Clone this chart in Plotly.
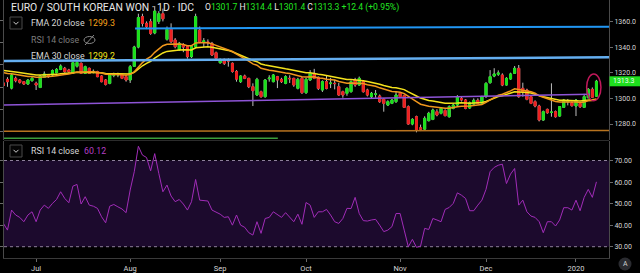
import plotly.graph_objects as go
import pandas as pd

# ---------------- data ----------------
DATES = [d.strftime('%Y-%m-%d') for d in pd.bdate_range('2019-06-19', '2020-01-08')]

OPEN = [1312.0, 1314.8, 1308.0, 1315.6, 1314.3, 1313.0, 1311.2, 1313.8,
        1311.7, 1308.5, 1316.4, 1318.2, 1318.2, 1320.0, 1322.6, 1323.4, 1322.1, 1319.5,
        1325.0, 1327.3, 1319.5, 1323.4, 1320.5, 1320.8, 1317.4, 1314.3, 1311.7, 1318.0,
        1318.2, 1318.2, 1316.9, 1314.3, 1325.0, 1340.0, 1363.7, 1358.5, 1359.8, 1351.0,
        1360.0, 1366.0, 1346.0, 1353.8, 1345.5, 1337.7, 1341.6, 1340.3, 1332.5, 1340.3,
        1353.3, 1344.2, 1344.0, 1342.9, 1335.6, 1327.8, 1330.4, 1329.4, 1327.3, 1321.0,
        1313.0, 1317.4, 1315.6, 1309.1, 1302.6, 1305.2, 1301.3, 1315.3, 1313.0, 1316.9,
        1314.8, 1311.7, 1315.6, 1315.6, 1307.8, 1315.6, 1304.4, 1314.3, 1319.5, 1316.4,
        1306.5, 1313.0, 1311.5, 1311.7, 1309.1, 1305.2, 1303.9, 1305.2, 1314.3, 1310.4,
        1313.0, 1306.5, 1301.3, 1303.2, 1301.8, 1299.2, 1294.8, 1296.1, 1297.4, 1303.9,
        1302.1, 1293.5, 1280.0, 1285.7, 1277.0, 1276.0, 1282.6, 1283.6, 1289.6, 1288.3,
        1290.5, 1285.7, 1292.2, 1294.8, 1300.0, 1298.7, 1292.5, 1295.5, 1298.5, 1296.1,
        1301.3, 1312.2, 1317.4, 1318.8, 1318.2, 1310.4, 1315.1, 1319.5, 1323.4, 1307.8,
        1306.5, 1301.3, 1297.4, 1294.0, 1283.1, 1291.4, 1289.0, 1289.6, 1286.2, 1293.0,
        1297.4, 1296.5, 1294.0, 1296.0, 1293.0, 1300.5, 1307.0, 1301.7]

HIGH = [1314.0, 1316.5, 1319.0, 1317.0, 1315.0, 1313.5, 1315.0, 1316.5,
        1313.0, 1318.0, 1321.0, 1319.0, 1322.5, 1323.5, 1326.5, 1324.5, 1323.0, 1328.5,
        1329.0, 1328.0, 1325.5, 1324.0, 1322.5, 1321.5, 1318.0, 1315.0, 1319.0, 1320.0,
        1320.0, 1319.0, 1317.5, 1326.0, 1341.0, 1366.0, 1366.0, 1360.0, 1362.0, 1372.0,
        1368.0, 1370.0, 1356.0, 1358.5, 1347.0, 1344.0, 1343.0, 1341.0, 1341.0, 1366.0,
        1356.0, 1347.0, 1346.0, 1344.0, 1336.5, 1331.0, 1331.0, 1331.2, 1328.0, 1322.0,
        1318.0, 1318.5, 1316.0, 1311.7, 1316.0, 1306.0, 1315.0, 1318.0, 1319.0, 1317.5,
        1316.0, 1318.0, 1318.0, 1316.0, 1316.0, 1316.5, 1316.0, 1322.0, 1323.0, 1317.0,
        1314.0, 1318.0, 1316.0, 1314.5, 1312.0, 1306.0, 1308.5, 1314.0, 1316.0, 1317.0,
        1314.0, 1307.5, 1305.0, 1306.5, 1303.0, 1300.0, 1298.5, 1299.5, 1305.5, 1305.0,
        1303.0, 1294.5, 1284.5, 1286.5, 1279.5, 1286.0, 1289.5, 1292.0, 1291.5, 1293.0,
        1291.5, 1294.5, 1296.0, 1302.5, 1301.5, 1299.5, 1297.5, 1300.0, 1300.0, 1302.0,
        1312.5, 1322.0, 1323.5, 1321.8, 1319.5, 1316.5, 1320.0, 1325.2, 1326.0, 1312.2,
        1307.5, 1302.0, 1298.5, 1295.0, 1290.5, 1292.0, 1311.7, 1290.5, 1294.0, 1299.5,
        1299.5, 1297.5, 1299.5, 1297.0, 1303.5, 1308.0, 1308.5, 1314.4]

LOW = [1308.5, 1309.0, 1307.0, 1312.5, 1311.5, 1310.5, 1310.5, 1313.0,
       1306.5, 1308.0, 1316.0, 1316.0, 1317.5, 1319.5, 1322.0, 1320.0, 1320.0, 1319.0,
       1324.0, 1319.0, 1319.0, 1319.0, 1319.5, 1316.5, 1312.5, 1310.0, 1311.0, 1316.5,
       1316.5, 1315.0, 1313.0, 1312.0, 1324.5, 1339.0, 1356.0, 1354.0, 1349.5, 1350.0,
       1358.0, 1360.0, 1345.0, 1343.0, 1339.0, 1337.0, 1336.0, 1331.0, 1331.5, 1339.0,
       1343.0, 1340.0, 1341.0, 1333.0, 1330.0, 1327.0, 1326.0, 1324.7, 1320.0, 1313.0,
       1312.0, 1315.0, 1308.0, 1294.0, 1302.0, 1300.5, 1300.5, 1313.0, 1312.5, 1308.0,
       1312.0, 1311.0, 1312.0, 1309.0, 1307.0, 1303.5, 1303.5, 1313.5, 1315.0, 1306.5,
       1305.0, 1307.0, 1308.0, 1307.0, 1302.0, 1300.5, 1302.0, 1304.5, 1309.0, 1310.0,
       1304.5, 1301.5, 1300.0, 1300.5, 1296.5, 1289.6, 1294.0, 1295.5, 1296.5, 1300.5,
       1292.5, 1279.5, 1279.0, 1273.5, 1274.5, 1275.0, 1282.0, 1283.0, 1286.0, 1287.5,
       1286.0, 1285.0, 1291.5, 1294.0, 1297.5, 1291.5, 1292.0, 1295.0, 1295.5, 1295.5,
       1300.5, 1311.5, 1316.5, 1317.5, 1309.5, 1310.0, 1314.5, 1319.0, 1300.5, 1301.3,
       1298.5, 1295.5, 1293.0, 1282.0, 1282.5, 1288.0, 1285.7, 1285.0, 1285.7, 1292.5,
       1294.5, 1293.5, 1286.2, 1292.5, 1292.5, 1300.0, 1300.5, 1301.4]

CLOSE = [1310.0, 1313.0, 1318.2, 1313.8, 1312.5, 1311.2, 1314.3, 1315.6,
         1310.4, 1317.4, 1319.0, 1316.9, 1321.6, 1322.6, 1325.2, 1320.8, 1320.8, 1327.8,
         1328.0, 1319.5, 1324.7, 1319.5, 1321.0, 1316.9, 1313.0, 1310.9, 1318.2, 1318.4,
         1318.6, 1315.6, 1314.3, 1324.7, 1340.0, 1363.0, 1358.5, 1355.9, 1350.7, 1368.0,
         1366.0, 1362.0, 1353.8, 1344.2, 1340.3, 1342.9, 1340.0, 1332.5, 1340.3, 1363.7,
         1344.2, 1344.8, 1343.4, 1333.8, 1331.2, 1330.4, 1327.3, 1329.1, 1321.0, 1315.0,
         1317.4, 1315.6, 1309.1, 1306.0, 1314.8, 1301.3, 1314.3, 1315.8, 1318.2, 1314.3,
         1313.0, 1316.9, 1315.3, 1310.4, 1314.8, 1304.4, 1314.8, 1319.5, 1315.6, 1307.8,
         1313.0, 1307.8, 1311.9, 1311.5, 1302.6, 1302.6, 1307.8, 1313.0, 1310.4, 1315.6,
         1305.2, 1302.6, 1303.9, 1303.4, 1297.4, 1296.1, 1297.4, 1298.7, 1302.6, 1301.3,
         1293.0, 1280.0, 1283.6, 1275.3, 1276.0, 1284.4, 1288.3, 1290.9, 1287.0, 1292.2,
         1286.5, 1293.5, 1294.8, 1301.3, 1298.7, 1292.2, 1296.5, 1298.5, 1296.0, 1301.3,
         1311.7, 1316.9, 1319.0, 1319.8, 1310.4, 1315.6, 1319.0, 1323.4, 1301.3, 1305.2,
         1299.2, 1296.1, 1294.0, 1283.1, 1289.6, 1288.8, 1289.3, 1285.7, 1293.5, 1298.7,
         1297.8, 1294.3, 1298.7, 1293.5, 1301.3, 1307.0, 1300.9, 1313.3]

FMA20 = [1320.0, 1319.3, 1319.2, 1318.7, 1318.1, 1317.4, 1317.1, 1317.0,
         1316.4, 1316.5, 1316.7, 1316.7, 1317.2, 1317.7, 1318.4, 1318.6, 1318.9, 1319.7,
         1320.5, 1320.4, 1320.8, 1320.7, 1320.7, 1320.4, 1319.7, 1318.8, 1318.8, 1318.7,
         1318.7, 1318.4, 1318.0, 1318.7, 1320.7, 1324.7, 1327.9, 1330.6, 1332.5, 1335.9,
         1338.8, 1341.0, 1342.2, 1342.4, 1342.2, 1342.3, 1342.0, 1341.1, 1341.1, 1343.2,
         1343.3, 1343.4, 1343.4, 1342.5, 1341.4, 1340.4, 1339.1, 1338.2, 1336.5, 1334.5,
         1332.9, 1331.2, 1329.1, 1326.9, 1325.8, 1323.4, 1322.6, 1321.9, 1321.6, 1320.9,
         1320.1, 1319.8, 1319.4, 1318.5, 1318.2, 1316.9, 1316.7, 1316.9, 1316.8, 1315.9,
         1315.7, 1314.9, 1314.6, 1314.3, 1313.2, 1312.2, 1311.8, 1311.9, 1311.8, 1312.1,
         1311.5, 1310.6, 1310.0, 1309.4, 1308.2, 1307.1, 1306.1, 1305.4, 1305.2, 1304.8,
         1303.7, 1301.4, 1299.7, 1297.4, 1295.4, 1294.3, 1293.8, 1293.5, 1292.9, 1292.8,
         1292.2, 1292.3, 1292.6, 1293.4, 1293.9, 1293.7, 1294.0, 1294.4, 1294.6, 1295.2,
         1296.8, 1298.7, 1300.6, 1302.5, 1303.2, 1304.4, 1305.8, 1307.5, 1306.9, 1306.7,
         1306.0, 1305.1, 1304.0, 1302.0, 1300.8, 1299.7, 1298.7, 1297.5, 1297.1, 1297.2,
         1297.3, 1297.0, 1297.2, 1296.8, 1297.2, 1298.2, 1298.4, 1299.3]

EMA30 = [1321.7, 1321.1, 1320.9, 1320.5, 1320.0, 1319.4, 1319.1, 1318.9,
         1318.3, 1318.2, 1318.3, 1318.2, 1318.4, 1318.7, 1319.1, 1319.2, 1319.3, 1319.9,
         1320.4, 1320.3, 1320.6, 1320.5, 1320.6, 1320.3, 1319.9, 1319.3, 1319.2, 1319.2,
         1319.1, 1318.9, 1318.6, 1319.0, 1320.3, 1323.1, 1325.4, 1327.3, 1328.9, 1331.4,
         1333.6, 1335.4, 1336.6, 1337.1, 1337.3, 1337.7, 1337.8, 1337.5, 1337.7, 1339.4,
         1339.7, 1340.0, 1340.2, 1339.8, 1339.3, 1338.7, 1338.0, 1337.4, 1336.3, 1334.9,
         1333.8, 1332.6, 1331.1, 1329.5, 1328.6, 1326.8, 1326.0, 1325.3, 1324.9, 1324.2,
         1323.5, 1323.0, 1322.5, 1321.8, 1321.3, 1320.2, 1319.9, 1319.9, 1319.6, 1318.8,
         1318.4, 1317.8, 1317.4, 1317.0, 1316.1, 1315.2, 1314.7, 1314.6, 1314.3, 1314.4,
         1313.8, 1313.1, 1312.5, 1311.9, 1311.0, 1310.0, 1309.2, 1308.5, 1308.2, 1307.7,
         1306.8, 1305.0, 1303.7, 1301.8, 1300.2, 1299.1, 1298.4, 1297.9, 1297.2, 1296.9,
         1296.2, 1296.1, 1296.0, 1296.3, 1296.5, 1296.2, 1296.2, 1296.4, 1296.3, 1296.7,
         1297.6, 1298.9, 1300.2, 1301.4, 1302.0, 1302.9, 1303.9, 1305.2, 1305.0, 1305.0,
         1304.6, 1304.1, 1303.4, 1302.1, 1301.3, 1300.5, 1299.8, 1298.9, 1298.5, 1298.5,
         1298.5, 1298.2, 1298.2, 1297.9, 1298.1, 1298.7, 1298.9, 1299.2]

RSI14 = [40.8, 37.7, 47.0, 44.7, 43.6, 41.6, 44.7, 46.2, 41.6, 47.0,
         49.3, 47.8, 50.1, 51.9, 55.5, 52.4, 50.4, 58.1, 58.9, 49.8,
         53.2, 49.3, 48.8, 47.8, 43.9, 41.1, 48.8, 49.6, 48.5, 47.5,
         45.8, 56.3, 64.8, 76.6, 72.5, 71.4, 65.2, 73.2, 64.0, 55.5,
         58.6, 53.5, 50.9, 51.9, 49.8, 47.0, 50.9, 61.2, 51.6, 51.3,
         51.2, 47.0, 46.2, 45.1, 43.6, 43.9, 40.0, 44.7, 40.0, 39.0,
         36.5, 35.4, 41.6, 36.2, 43.1, 43.6, 46.2, 44.7, 43.6, 45.8,
         43.6, 41.6, 45.1, 40.4, 50.5, 49.3, 43.6, 46.2, 46.2, 47.3,
         44.7, 41.6, 40.8, 43.1, 47.8, 47.7, 52.9, 45.4, 42.1, 41.9,
         42.4, 42.7, 40.0, 37.0, 37.7, 39.3, 45.4, 45.4, 37.7, 30.0,
         33.4, 29.7, 30.3, 38.5, 38.0, 43.1, 42.4, 41.6, 47.3, 48.2,
         50.1, 55.0, 53.9, 52.4, 46.7, 46.7, 49.3, 51.6, 56.6, 64.8,
         66.8, 67.8, 68.3, 59.3, 63.7, 66.3, 49.3, 51.6, 46.2, 44.2,
         43.6, 41.6, 36.5, 41.6, 41.6, 39.6, 42.4, 48.1, 48.1, 47.0,
         51.6, 46.7, 52.9, 56.6, 52.9, 60.1]

MONTH_TICKS = ['2019-07-01', '2019-08-01', '2019-09-02', '2019-10-01',
               '2019-11-01', '2019-12-02', '2020-01-01']
MONTH_LABELS = ['Jul', 'Aug', 'Sep', 'Oct', 'Nov', 'Dec', '2020']
PRICE_TICKS = [1280, 1300, 1320, 1340, 1360]
RSI_TICKS = [30, 40, 50, 60, 70]
RSI_BAND = [30, 70]
# hidden RSI overlay scale on the left of the price pane (only its tick marks show)
OVERLAY_TICKS = [10, 20, 30, 40, 50, 60]

# chart drawings: (bar position 0, price 0, bar position 1, price 1, colour, width)
TRENDLINES = [
    (32.2, 1354.4, 148.1, 1355.9, '#2196f3', 2),
    (0.0, 1329.1, 148.1, 1332.0, '#64aef0', 2.5),
    (0.0, 1294.8, 143.4, 1303.2, '#8e54d6', 1.5),
    (0.0, 1274.3, 148.1, 1275.0, '#b8731f', 1.5),
    (0.0, 1268.9, 67.1, 1268.9, '#3c9e3c', 1.5),
]
ELLIPSE = (142.6, 1298.2, 146.1, 1319.0)

LAST = dict(o=1301.7, h=1314.4, l=1301.4, c=1313.3, chg='+12.4', pct='+0.95%')
FMA_LAST, EMA_LAST, RSI_LAST = 1299.3, 1299.2, 60.12

assert len(DATES) == len(OPEN) == len(HIGH) == len(LOW) == len(CLOSE) == len(FMA20) == len(EMA30) == len(RSI14)

# ---------------- styling ----------------
W, H = 640, 273
ML, MR, MT, MB = 4, 31, 0, 15
PW, PH = W - ML - MR, H - MT - MB
PRICE_RANGE = [1267.52, 1376.69]
RSI_RANGE = [24.76, 79.05]
OVERLAY_RANGE = [6.28, 69.06]
PRICE_DOM = [1 - 140 / PH, 1]
RSI_DOM = [0, 1 - 141 / PH]
XR = [0.15, 148.07]

GREEN, RED, WICK = '#19e119', '#ee1f1f', '#bdbdbd'
ORANGE, YELLOW, PURPLE = '#f0961c', '#f4e21c', '#a12cb8'
FONT = 'Roboto'
TXT = '#d6d6d6'


def px(x):
    return (x - ML) / PW


def py(y):
    return 1 - (y - MT) / PH


def price_to_paper(p):
    f = (p - PRICE_RANGE[0]) / (PRICE_RANGE[1] - PRICE_RANGE[0])
    return PRICE_DOM[0] + f * (PRICE_DOM[1] - PRICE_DOM[0])


body_hi = [max(o, c) for o, c in zip(OPEN, CLOSE)]
body_lo = [min(o, c) for o, c in zip(OPEN, CLOSE)]

fig = go.Figure()
fig.add_trace(go.Candlestick(
    x=DATES, open=OPEN, high=HIGH, low=LOW, close=CLOSE,
    increasing=dict(line=dict(color=WICK, width=1), fillcolor=WICK),
    decreasing=dict(line=dict(color=WICK, width=1), fillcolor=WICK),
    whiskerwidth=0, showlegend=False, hoverinfo='skip', xaxis='x', yaxis='y'))
fig.add_trace(go.Candlestick(
    x=DATES, open=OPEN, high=body_hi, low=body_lo, close=CLOSE,
    increasing=dict(line=dict(color=GREEN, width=1), fillcolor=GREEN),
    decreasing=dict(line=dict(color=RED, width=1), fillcolor=RED),
    whiskerwidth=0, showlegend=False, hoverinfo='skip', xaxis='x', yaxis='y'))
fig.add_trace(go.Scatter(x=DATES, y=EMA30, mode='lines', line=dict(color=YELLOW, width=1.5),
                         showlegend=False, hoverinfo='skip', xaxis='x', yaxis='y'))
fig.add_trace(go.Scatter(x=DATES, y=FMA20, mode='lines', line=dict(color=ORANGE, width=1.5),
                         showlegend=False, hoverinfo='skip', xaxis='x', yaxis='y'))
fig.add_trace(go.Scatter(x=DATES, y=RSI14, mode='lines', line=dict(color=PURPLE, width=1),
                         showlegend=False, hoverinfo='skip', xaxis='x', yaxis='y2'))
# the hidden RSI overlay of the price pane: drawn invisibly so its scale exists
fig.add_trace(go.Scatter(x=DATES, y=RSI14, mode='lines', line=dict(width=0), opacity=0,
                         showlegend=False, hoverinfo='skip', xaxis='x', yaxis='y3'))

shapes = []
shapes.append(dict(type='rect', xref='x domain', yref='y2', x0=0, x1=1, y0=RSI_BAND[0], y1=RSI_BAND[1],
                   fillcolor='#1c0a2d', line=dict(width=0), layer='below'))
for lv in RSI_BAND:
    shapes.append(dict(type='line', xref='x domain', yref='y2', x0=0, x1=1, y0=lv, y1=lv,
                       line=dict(color='#8e809c', width=1, dash='3px,3px'), layer='below'))
shapes.append(dict(type='line', xref='paper', yref='paper', x0=0, x1=1, y0=py(140.5), y1=py(140.5),
                   line=dict(color='#2c2c2c', width=1)))
for (i0, p0, i1, p1, col, wd) in TRENDLINES:
    shapes.append(dict(type='line', xref='x', yref='y', x0=max(i0, XR[0]), y0=p0, x1=min(i1, XR[1]), y1=p1,
                       line=dict(color=col, width=wd)))
shapes.append(dict(type='circle', xref='x', yref='y', x0=ELLIPSE[0], y0=ELLIPSE[1], x1=ELLIPSE[2], y1=ELLIPSE[3],
                   line=dict(color='#c0185a', width=1.5)))
ly = price_to_paper(LAST['c'])
hh = 5 / PH
shapes.append(dict(type='rect', xref='paper', yref='paper', x0=px(609.5), x1=px(640), y0=ly - hh, y1=ly + hh,
                   fillcolor='#1ee01e', line=dict(width=0)))


def chevron_box(cx, cy):
    out = [dict(type='rect', xref='paper', yref='paper', x0=px(cx - 6), x1=px(cx + 6), y0=py(cy + 6), y1=py(cy - 6),
                line=dict(color='#4a4a4a', width=1), fillcolor='#050505')]
    path = 'M {} {} L {} {} L {} {}'.format(px(cx - 2.5), py(cy - 1.2), px(cx), py(cy + 1.3), px(cx + 2.5), py(cy - 1.2))
    out.append(dict(type='path', xref='paper', yref='paper', path=path, line=dict(color='#cfcfcf', width=1)))
    return out


shapes += chevron_box(16, 23)
shapes += chevron_box(16, 151)
shapes.append(dict(type='circle', xref='paper', yref='paper', x0=px(84), x1=px(95), y0=py(43.5), y1=py(36.5),
                   line=dict(color='#8a8a8a', width=1)))
shapes.append(dict(type='line', xref='paper', yref='paper', x0=px(85), x1=px(94), y0=py(45), y1=py(35),
                   line=dict(color='#8a8a8a', width=1)))
shapes.append(dict(type='circle', xref='paper', yref='paper', x0=px(618.5), x1=px(631.5), y0=py(270.5), y1=py(257.5),
                   fillcolor='#2a2b30', line=dict(width=0)))

ann = []


def text(x, y, s, size, color, xanchor='left'):
    ann.append(dict(xref='paper', yref='paper', x=px(x), y=py(y), text=s, showarrow=False,
                    xanchor=xanchor, yanchor='middle', font=dict(family=FONT, size=size, color=color)))


G = '#22e822'
text(9, 7, 'EURO / SOUTH KOREAN WON · 1D · IDC', 10.4, '#e8e8e8')
text(203, 7, ("O<span style='color:{g}'>{o}</span> H<span style='color:{g}'>{h}</span> "
              "L<span style='color:{g}'>{l}</span> C<span style='color:{g}'>{c}</span> "
              "<span style='color:{g}'>{chg} ({pct})</span>").format(g=G, **LAST), 8.6, '#e8e8e8')
text(29, 23, 'FMA 20 close', 8.8, TXT)
text(86, 23, '{:.1f}'.format(FMA_LAST), 8.8, '#f7a21b')
text(29, 40, 'RSI 14 close', 8.8, '#7c7c7c')
text(29, 56, 'EMA 30 close', 8.8, TXT)
text(86, 56, '{:.1f}'.format(EMA_LAST), 8.8, '#f3e51c')
text(29, 151, 'RSI 14 close', 8.8, TXT)
text(82, 151, '{:.2f}'.format(RSI_LAST), 8.8, '#b53fc4')
ann.append(dict(xref='paper', yref='paper', x=px(624.5), y=ly, text='{:.1f}'.format(LAST['c']), showarrow=False,
                xanchor='center', yanchor='middle', font=dict(family=FONT, size=7, color='#eaffea')))
text(625, 264, 'A', 7, '#cfcfcf', xanchor='center')

axis_common = dict(showgrid=False, zeroline=False, ticks='outside', ticklen=3, tickcolor='#6a6a6a',
                   showline=True, linecolor='#4a4a4a', linewidth=1,
                   tickfont=dict(family=FONT, size=7, color=TXT))

fig.update_layout(
    width=W, height=H, margin=dict(l=ML, r=MR, t=MT, b=MB, pad=0),
    paper_bgcolor='#000000', plot_bgcolor='#000000', showlegend=False,
    xaxis=dict(type='category', range=XR, anchor='y2', tickmode='array', tickvals=MONTH_TICKS,
               ticktext=MONTH_LABELS, rangeslider=dict(visible=False), showgrid=False, zeroline=False,
               ticks='outside', ticklen=3, tickcolor='#6a6a6a', showline=True, linecolor='#3a3a3a',
               tickfont=dict(family=FONT, size=7.5, color=TXT)),
    yaxis=dict(domain=PRICE_DOM, range=PRICE_RANGE, side='right', tickmode='array', tickvals=PRICE_TICKS,
               tickformat='.1f', mirror=True, **axis_common),
    yaxis2=dict(domain=RSI_DOM, range=RSI_RANGE, side='right', tickmode='array', tickvals=RSI_TICKS,
                tickformat='.2f', mirror='ticks', **axis_common),
    yaxis3=dict(overlaying='y', side='left', range=OVERLAY_RANGE, tickmode='array', tickvals=OVERLAY_TICKS,
                showticklabels=False, ticks='outside', ticklen=3, tickcolor='#6a6a6a', showgrid=False,
                zeroline=False, showline=False),
    shapes=shapes, annotations=ann,
)

fig.write_html('out.html')
